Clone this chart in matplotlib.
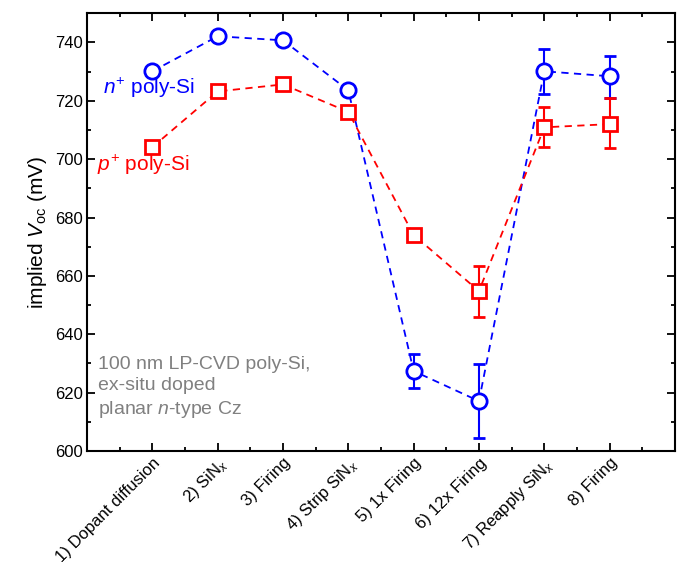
import matplotlib
matplotlib.use('Agg')
import matplotlib.pyplot as plt
import numpy as np
from matplotlib.ticker import MultipleLocator

plt.rcParams['font.family'] = ['Liberation Sans', 'DejaVu Sans']
plt.rcParams['mathtext.fontset'] = 'custom'
plt.rcParams['mathtext.rm'] = 'Liberation Sans'
plt.rcParams['mathtext.it'] = 'Liberation Sans:italic'

steps = ['1) Dopant diffusion', '2) SiN$_x$', '3) Firing', '4) Strip SiN$_x$',
         '5) 1x Firing', '6) 12x Firing', '7) Reapply SiN$_x$', '8) Firing']

n_voc = [730.1, 742.1, 740.7, 723.6, 627.4, 617.1, 730.1, 728.4]
n_err_lo = [0.8, 0.5, 0.5, 0.8, 5.8, 12.6, 7.9, 7.6]
n_err_hi = [0.8, 0.5, 0.5, 0.8, 5.8, 12.7, 7.5, 6.8]

p_voc = [704.1, 723.2, 725.6, 716.2, 674.0, 654.8, 710.9, 712.0]
p_err_lo = [1.5, 0.8, 0.8, 1.8, 0.8, 8.9, 6.8, 8.3]
p_err_hi = [1.5, 0.8, 0.8, 1.8, 0.8, 8.5, 6.9, 8.8]

x = np.arange(1, len(steps) + 1)

fig = plt.figure(figsize=(6.82, 5.62), dpi=100)
ax = fig.add_axes([0.1276, 0.1975, 0.862, 0.779])

ax.errorbar(x, n_voc, yerr=[n_err_lo, n_err_hi], color='#0000ff', ls='--', lw=1.3,
            marker='o', ms=11, mfc='white', mew=2, capsize=4, elinewidth=1.5,
            capthick=1.5, dashes=(4, 3))
ax.errorbar(x, p_voc, yerr=[p_err_lo, p_err_hi], color='#ff0000', ls='--', lw=1.3,
            marker='s', ms=9.5, mfc='white', mew=2, capsize=4, elinewidth=1.5,
            capthick=1.5, dashes=(4, 3))

ax.set_xlim(0, 9)
ax.set_ylim(600, 750)
ax.set_xticks(x)
ax.set_xticklabels(steps, rotation=45, ha='right', rotation_mode='anchor', fontsize=12)
ax.xaxis.set_minor_locator(MultipleLocator(0.5))
ax.yaxis.set_major_locator(MultipleLocator(20))
ax.yaxis.set_minor_locator(MultipleLocator(10))
ax.tick_params(which='both', direction='in', top=True, right=True, width=1.3)
ax.tick_params(which='major', length=6, labelsize=12, pad=3)
ax.tick_params(which='minor', length=3)
for sp in ax.spines.values():
    sp.set_linewidth(1.5)

ax.set_ylabel('implied $V_{\\mathrm{oc}}$ (mV)', fontsize=15)

ax.text(0.25, 724.3, '$n^{+}$ poly-Si', color='#0000ff', fontsize=15, va='center')
ax.text(0.15, 697.9, '$p^{+}$ poly-Si', color='#ff0000', fontsize=15, va='center')
ax.text(0.17, 632.5, '100 nm LP-CVD poly-Si,\nex-situ doped\nplanar $n$-type Cz',
        color='#808080', fontsize=14, va='top', linespacing=1.3)

fig.savefig('out.png', dpi=100)
